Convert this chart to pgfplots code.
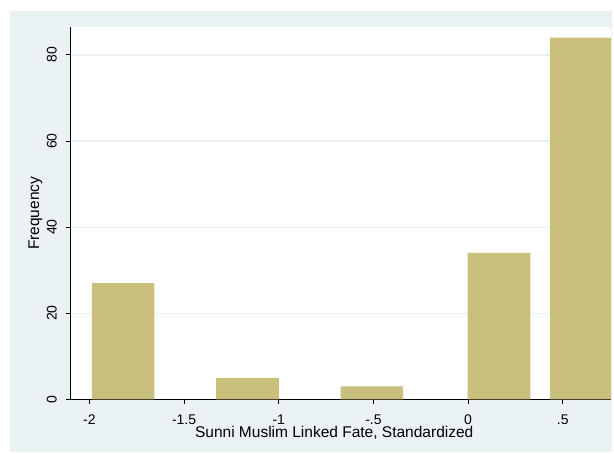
\documentclass[border=0pt]{standalone}
\usepackage{pgfplots}
\pgfplotsset{compat=1.18}
\usepackage{fontspec}
\setmainfont{Liberation Sans}

\definecolor{graphbg}{RGB}{234,242,243}
\definecolor{gridc}{RGB}{234,241,243}
\definecolor{barfill}{RGB}{201,192,126}

\newcommand\stfont{\fontsize{15.5bp}{18bp}\selectfont}
\newcommand\tkfont{\fontsize{14bp}{16bp}\selectfont}

\begin{document}
\begin{tikzpicture}[x=1bp,y=1bp]
  % page and graph region
  \path[use as bounding box] (0,0) rectangle (614,454);
  \fill[graphbg] (10,2) rectangle (612,443);
  \begin{axis}[
    at={(70.7bp,54.7bp)}, anchor=south west,
    width=540.3bp, height=372bp, scale only axis,
    xmin=-2.099, xmax=0.755,
    ymin=0, ymax=86.43,
    enlargelimits=false,
    axis lines*=left,
    axis line style={line width=1bp, black},
    axis background/.style={fill=white},
    tick align=outside,
    major tick length=5bp,
    tick style={line width=1bp, black},
    xtick={-2,-1.5,-1,-0.5,0,0.5},
    xticklabels={-2,-1.5,-1,-.5,0,.5},
    ytick={0,20,40,60,80},
    yticklabels={0,20,40,60,80},
    ymajorgrids,
    major grid style={gridc, line width=1.2bp},
    tick label style={font=\tkfont},
    xticklabel style={yshift=-7bp},
    % rotated labels: a positive yshift moves them to the left
    yticklabel style={rotate=90, anchor=south, yshift=5.5bp},
    xlabel={Sunni Muslim Linked Fate, Standardized},
    ylabel={Frequency},
    label style={font=\stfont},
    xlabel style={at={(axis description cs:0.4877,0)}, anchor=north, yshift=-23bp},
    ylabel style={at={(axis description cs:0,0.5)}, anchor=center, yshift=35.3bp},
  ]
    \addplot[ybar, bar width=0.331, fill=barfill, draw=none]
      coordinates {(-1.822,27) (-1.165,5) (-0.508,3) (0.163,34) (0.598,84)};
  \end{axis}
\end{tikzpicture}
\end{document}
